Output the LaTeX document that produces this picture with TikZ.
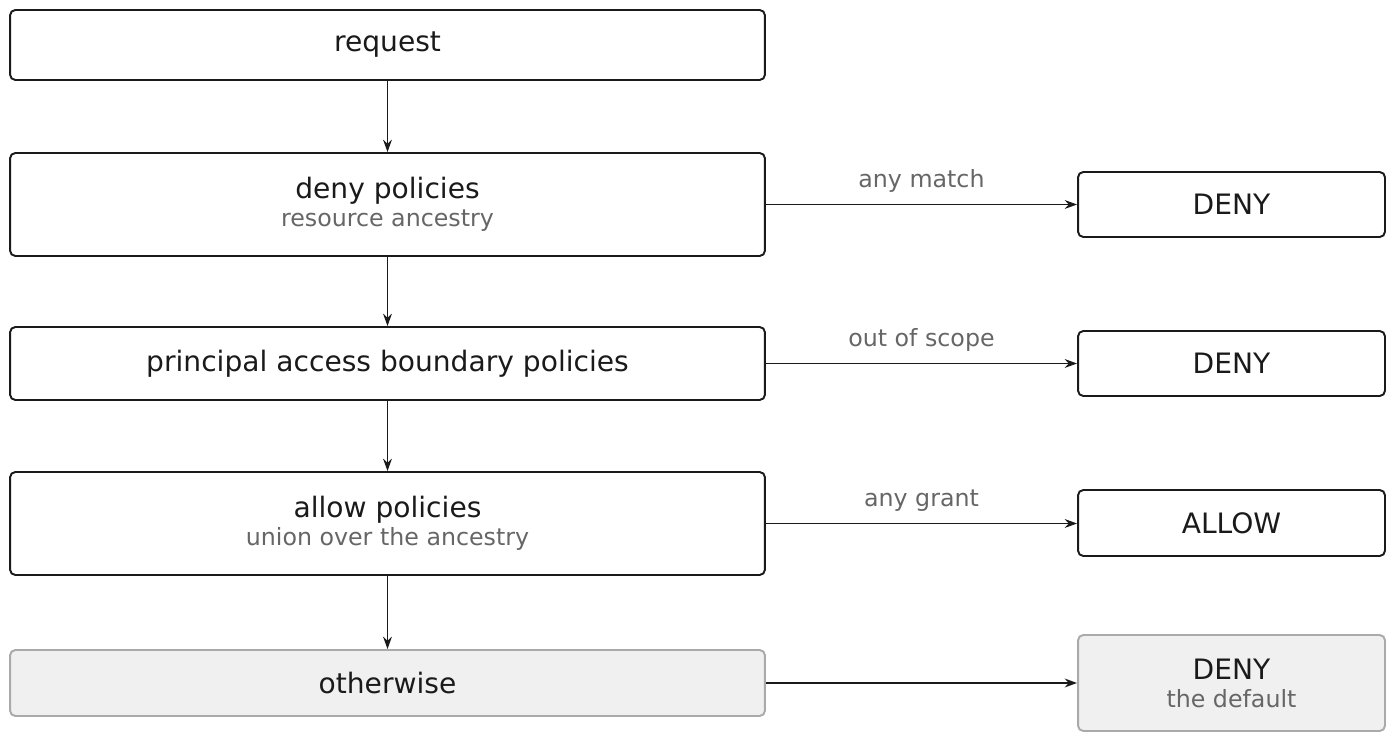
\documentclass[tikz,border=0pt]{standalone}
\usepackage{fontspec}
\setmainfont{DejaVu Sans}
\usetikzlibrary{arrows.meta}
\definecolor{ink}{HTML}{1A1A1A}
\definecolor{sub}{HTML}{666666}
\definecolor{gfill}{HTML}{F0F0F0}
\definecolor{gline}{HTML}{AAAAAA}
\begin{document}
\begin{tikzpicture}[x=0.02cm,y=-0.02cm,
  box/.style={draw=ink,line width=1.1pt,rounded corners=3pt,inner sep=0pt,align=center,text=ink,font=\fontsize{16}{17}\selectfont},
  wide/.style={box,minimum width=15.1cm},
  res/.style={box,minimum width=6.14cm},
  grey/.style={fill=gfill,draw=gline},
  arr/.style={-{Stealth[length=7pt,width=5pt]},line width=1.1pt,draw=ink},
  lab/.style={text=sub,font=\fontsize{13.5}{14}\selectfont,above=3pt},
  s/.style={}]
\useasboundingbox (0,0) rectangle (1396,742);
\newcommand{\subt}[1]{\\[-1pt]{\color{sub}\fontsize{13.5}{14}\selectfont #1}}
\node[wide,minimum height=1.4cm] (req) at (387.5,45) {request};
\node[wide,minimum height=2.06cm] (deny) at (387.5,204.5) {deny policies\subt{resource ancestry}};
\node[wide,minimum height=1.46cm] (pab) at (387.5,363.5) {principal access boundary policies};
\node[wide,minimum height=2.06cm] (allow) at (387.5,523.5) {allow policies\subt{union over the ancestry}};
\node[wide,grey,minimum height=1.32cm] (oth) at (387.5,683) {otherwise};
\node[res,minimum height=1.3cm] (d1) at (1231.5,204.5) {DENY};
\node[res,minimum height=1.3cm] (d2) at (1231.5,363.5) {DENY};
\node[res,minimum height=1.32cm] (a1) at (1231.5,523) {ALLOW};
\node[res,grey,minimum height=1.92cm] (d3) at (1231.5,683) {DENY\subt{the default}};
\draw[arr] (req) -- (deny);
\draw[arr] (deny) -- (pab);
\draw[arr] (pab) -- (allow);
\draw[arr] (allow) -- (oth);
\draw[arr] (deny.east) -- node[lab]{any match} (d1.west);
\draw[arr] (pab.east) -- node[lab]{out of scope} (d2.west);
\draw[arr] (allow.east) -- node[lab]{any grant} (a1.west|-allow.east);
\draw[arr] (oth.east) -- (d3.west);
\end{tikzpicture}
\end{document}
